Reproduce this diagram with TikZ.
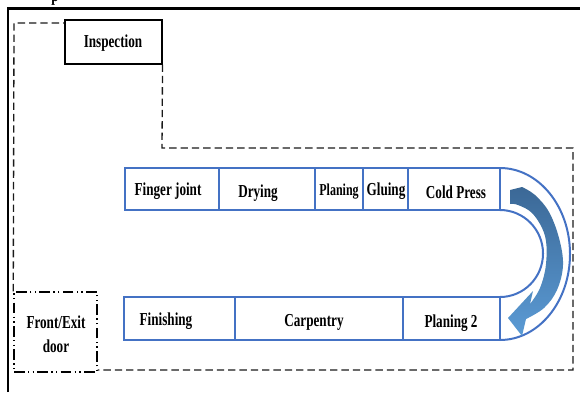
\documentclass[tikz,border=0pt]{standalone}
\usepackage{fontspec}
\newfontface\lab{Liberation Serif Bold}[FakeStretch=0.72]
\definecolor{ublue}{HTML}{4472C4}
\definecolor{adark}{HTML}{3B6896}
\definecolor{alight}{HTML}{5B9BD5}
\definecolor{dgray}{HTML}{1A1A1A}
\begin{document}
\begin{tikzpicture}[x=0.75pt,y=-0.75pt,
  cell/.style={draw=ublue,line width=1.5pt,minimum height=#1,inner sep=0pt,outer sep=0pt},
  txt/.style={font=\lab\fontsize{13.7pt}{15pt}\selectfont,anchor=base,inner sep=0pt},
  boundary/.style={draw=dgray,line width=1pt,dash pattern=on 5.5pt off 3pt},
  frameline/.style={draw=black,line width=1.6pt},
  ublue line/.style={draw=ublue,line width=1.5pt}]
\useasboundingbox (0,0) rectangle (580,392);
% outer frame
\draw[frameline] (8,392) -- (8,8.5) -- (581,8.5);
\node[txt] (ptxt) at (55,1.5) {p};
% inspection box
\node[draw=black,line width=0.8pt,minimum width=72.75pt,minimum height=33pt,inner sep=0pt] (insp) at (113.5,42) {};
\node[txt] (tinsp) at (113,48) {Inspection};
% door box
\node[draw=black,line width=1.1pt,dash pattern=on 8pt off 2.5pt on 1pt off 2.5pt on 1pt off 2.5pt,minimum width=62.25pt,minimum height=60pt,inner sep=0pt] (door) at (55.5,332) {};
\node[txt] (tdoor1) at (56,328) {Front/Exit};
\node[txt] (tdoor2) at (56,352) {door};
% dashed boundary
\draw[boundary] (door.north west) -- (14,23) -- (insp.west |- 0,23);
\draw[boundary] (insp.south east) -- (162,148) -- (573,148) -- (573,370) -- (door.east |- 0,370);
% top row
\node[cell=31.5pt,minimum width=70.5pt] (fj) at (172,189) {};
\node[cell=31.5pt,minimum width=72pt] (dry) at (267,189) {};
\node[cell=31.5pt,minimum width=36pt] (plan) at (339,189) {};
\node[cell=31.5pt,minimum width=33.75pt] (glu) at (385.5,189) {};
\node[cell=31.5pt,minimum width=69pt] (cold) at (454,189) {};
% bottom row
\node[cell=32.25pt,minimum width=83.25pt] (fin) at (179.5,318.5) {};
\node[cell=32.25pt,minimum width=126pt] (carp) at (319,318.5) {};
\node[cell=32.25pt,minimum width=72.75pt] (plan2) at (451.5,318.5) {};
% labels
\node[txt] (tfj) at (168,195) {Finger joint};
\node[txt] (tdry) at (258,197) {Drying};
\node[txt,font=\lab\fontsize{12.5pt}{14pt}\selectfont] (tplan) at (339,195) {Planing};
\node[txt] (tglu) at (386,195) {Gluing};
\node[txt] (tcold) at (456,198) {Cold Press};
\node[txt] (tfin) at (166,325) {Finishing};
\node[txt] (tcarp) at (314,326) {Carpentry};
\node[txt] (tplan2) at (451,327) {Planing 2};
% U bend
\draw[ublue line] (cold.north east) .. controls (538.7,168) and (570,206.5) .. (570,254)
  .. controls (570,301.5) and (538.7,340) .. (plan2.south east);
\draw[ublue line] (cold.south east) .. controls (523.75,210) and (543,229.5) .. (543,253.5)
  .. controls (543,277.5) and (523.75,297) .. (plan2.north east);
% curved arrow
\shade[top color=adark,bottom color=alight,shading angle=0]
  (510,190) -- plot[smooth,tension=0.6] coordinates {(522,187) (535,195) (549,212) (559,238) (563,265) (557,290) (544,308) (526,319)}
  -- (522,336) -- (508,318) -- (533,291)
  -- plot[smooth,tension=0.6] coordinates {(530,304) (540,288) (546,264) (545,236) (533,214) (518,205) (510,204)}
  -- cycle;
\end{tikzpicture}
\end{document}
